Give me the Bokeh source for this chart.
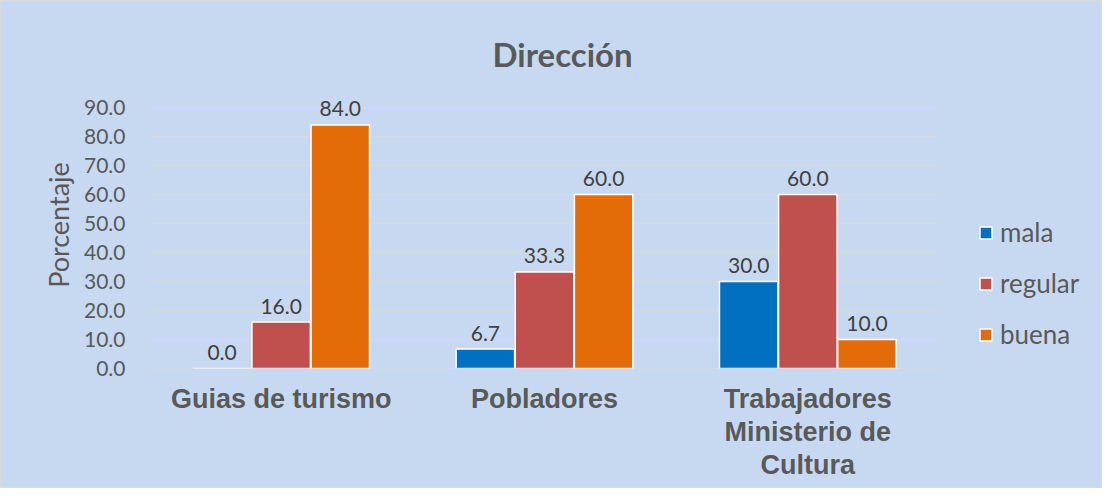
from bokeh.plotting import figure
from bokeh.models import (ColumnDataSource, FixedTicker, NumeralTickFormatter,
                          Legend, LegendItem, Range1d, LinearAxis)
from bokeh.core.properties import value
from bokeh.embed import file_html
from bokeh.resources import INLINE

# ---- data ----
categories = ["Guias de turismo", "Pobladores", "Trabajadores Ministerio de Cultura"]
label_line1 = ["Guias de turismo", "Pobladores", "Trabajadores"]
label_line2 = ["", "", "Ministerio de"]
label_line3 = ["", "", "Cultura"]
series_names = ["mala", "regular", "buena"]
mala = [0.0, 6.7, 30.0]
regular = [16.0, 33.3, 60.0]
buena = [84.0, 60.0, 10.0]
y_ticks = [0, 10, 20, 30, 40, 50, 60, 70, 80, 90]

colors = ["#0070C0", "#C0504D", "#E36C09"]
offsets = [-0.2245, 0.0, 0.2245]
bar_w = 0.222

TXT = "#595959"
BG = "#C6D9F1"

# layout (pixels)
W, H = 1102, 488
LEFT, TOP, BOTTOM = 148, 80, 121
PLOT_W = 790          # width of the 3 category slots
GRID_TOP_PX = 106     # where the 90 gridline sits
frame_w = W - LEFT - 1
frame_h = H - TOP - BOTTOM
n = len(categories)
x_end = n * frame_w / PLOT_W
y_end = max(y_ticks) * frame_h / (H - BOTTOM - GRID_TOP_PX)

centers = [i + 0.5 for i in range(n)]

data = dict(cat=categories)
for name, vals in zip(series_names, [mala, regular, buena]):
    data[name] = vals
    data[name + "_lbl"] = ["%.1f" % v for v in vals]
src = ColumnDataSource(data)

p = figure(width=W, height=H, output_backend="svg", toolbar_location=None,
           x_range=Range1d(0, x_end), y_range=Range1d(0, y_end),
           min_border_left=LEFT, min_border_right=1,
           min_border_top=TOP, min_border_bottom=BOTTOM)

p.background_fill_color = BG
p.border_fill_color = None
p.outline_line_color = None
p.styles = {"border": "1px solid #D9D9D9", "background-color": BG}

p.title.text = "Dirección"
p.title.align = "left"
p.title.offset = 343
p.title.text_font = "Lato"
p.title.text_font_style = "bold"
p.title.text_font_size = "33px"
p.title.text_color = TXT
p.title.standoff = 15

# gridlines limited to the category area
p.xgrid.grid_line_color = None
p.ygrid.grid_line_color = None
p.segment(x0=[0] * len(y_ticks), y0=y_ticks, x1=[n] * len(y_ticks), y1=y_ticks,
          line_color="#D9D9D9", line_width=1.2)

items = []
for name, col, off in zip(series_names, colors, offsets):
    xs = [c + off for c in centers]
    src.data[name + "_x"] = xs
    r = p.vbar(x=name + "_x", top=name, width=bar_w, source=src,
               fill_color=col, line_color="white", line_width=1.5)
    items.append(LegendItem(label=name, renderers=[r]))
    p.text(x=name + "_x", y=name, text=name + "_lbl", source=src,
           text_align="center", text_baseline="alphabetic", y_offset=-16,
           text_font=value("Lato"), text_font_size="21px", text_color="#404040")

# y axis
p.yaxis.ticker = FixedTicker(ticks=y_ticks)
p.yaxis.formatter = NumeralTickFormatter(format="0.0")
p.yaxis.axis_line_color = None
p.yaxis.major_tick_line_color = None
p.yaxis.minor_tick_line_color = None
p.yaxis.major_tick_out = 0
p.yaxis.major_label_standoff = 24
p.yaxis.major_label_text_font = "Lato"
p.yaxis.major_label_text_font_size = "21px"
p.yaxis.major_label_text_color = TXT
p.yaxis.axis_label = "Porcentaje"
p.yaxis.axis_label_text_font = "Lato"
p.yaxis.axis_label_text_font_style = "normal"
p.yaxis.axis_label_text_font_size = "27px"
p.yaxis.axis_label_text_color = TXT
p.yaxis.axis_label_standoff = 6


def style_xaxis(ax, labels, standoff):
    ax.ticker = FixedTicker(ticks=centers)
    ax.axis_line_color = None
    ax.major_tick_line_color = None
    ax.minor_tick_line_color = None
    ax.major_tick_out = 0
    ax.major_tick_in = 0
    ax.major_label_standoff = standoff
    ax.major_label_overrides = {c: (lbl if lbl else " ") for c, lbl in zip(centers, labels)}
    ax.major_label_text_font = "Liberation Sans"
    ax.major_label_text_font_style = "bold"
    ax.major_label_text_font_size = "27px"
    ax.major_label_text_color = TXT


style_xaxis(p.xaxis[0], label_line1, 15)
ax2 = LinearAxis()
style_xaxis(ax2, label_line2, 0)
p.add_layout(ax2, "below")
ax3 = LinearAxis()
style_xaxis(ax3, label_line3, 0)
p.add_layout(ax3, "below")

legend = Legend(items=items, location=(829, 18), orientation="vertical",
                padding=0, margin=0, spacing=19,
                glyph_width=15, glyph_height=15, label_standoff=7,
                label_text_font="Lato", label_text_font_size="26px",
                label_text_color=TXT, border_line_color=None,
                background_fill_alpha=0)
p.add_layout(legend, "center")

open("out.html", "w").write(file_html(p, INLINE))
